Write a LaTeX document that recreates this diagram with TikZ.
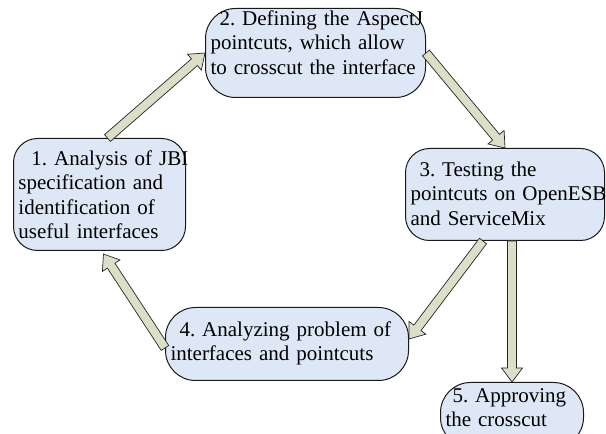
\documentclass[tikz,border=0pt]{standalone}
\usepackage{fontspec}
\setmainfont{Liberation Serif}
\usetikzlibrary{calc}
\definecolor{stagefill}{RGB}{222,231,245}
\definecolor{arrowfill}{RGB}{221,222,200}
\newcommand\firstline[2][9pt]{\mbox{\hspace{#1}#2}}
\frenchspacing
\tikzset{
  stage/.style={draw=black!90, fill=stagefill, line width=1pt,
    rounded corners=#1, anchor=north west, align=left,
    inner xsep=5pt, inner ysep=0pt,
    font=\fontsize{21}{24.5}\selectfont},
  stage/.default=20pt,
  block/.style={draw=black!85, fill=arrowfill, line width=0.7pt,
    to path={
      ($(\tikztostart)!4.5pt!90:(\tikztotarget)$) --
      ($(\tikztotarget)!14pt!(\tikztostart)!4.5pt!-90:(\tikztostart)$) --
      ($(\tikztotarget)!14pt!(\tikztostart)!10.5pt!-90:(\tikztostart)$) --
      (\tikztotarget) --
      ($(\tikztotarget)!14pt!(\tikztostart)!10.5pt!90:(\tikztostart)$) --
      ($(\tikztotarget)!14pt!(\tikztostart)!4.5pt!90:(\tikztostart)$) --
      ($(\tikztostart)!4.5pt!-90:(\tikztotarget)$) -- cycle}}
}
\begin{document}
\begin{tikzpicture}[x=1pt,y=1pt]
\useasboundingbox (0,0) rectangle (606,434);
% the five steps
\node[stage=24pt, text width=162pt, text height=27pt, text depth=85pt] (s1) at (13,296)
  {\firstline[13pt]{1. Analysis of JBI}\\specification and\\identification of\\useful interfaces};
\node[stage=30pt, text width=210pt, text height=17pt, text depth=72pt] (s2) at (205,426)
  {\firstline{2. Defining the AspectJ}\\pointcuts, which allow\\to crosscut the interface};
\node[stage=24pt, text width=189pt, text height=28pt, text depth=64pt] (s3) at (405,286)
  {\firstline{3. Testing the}\\\mbox{pointcuts on OpenESB}\\and ServiceMix};
\node[stage=30pt, text width=233pt, text height=29pt, text depth=44pt] (s4) at (165,127)
  {\firstline{4. Analyzing problem of}\\interfaces and pointcuts};
\node[stage=30pt, text width=133pt, text height=20pt, text depth=45pt] (s5) at (440,52)
  {\firstline[7pt]{5. Approving}\\the crosscut};
% arrows
\draw[block] ([xshift=8pt]s1.north) to (s2.west);
\draw[block] (s2.east) to (s3.north);
\draw[block] ([xshift=-22pt]s3.south) to ([yshift=5pt]s4.east);
\draw[block] (s3.south -| s5.north) to (s5.north);
\draw[block] ([yshift=-4pt]s4.west) to ([xshift=4pt,yshift=-3pt]s1.south);
\end{tikzpicture}
\end{document}
